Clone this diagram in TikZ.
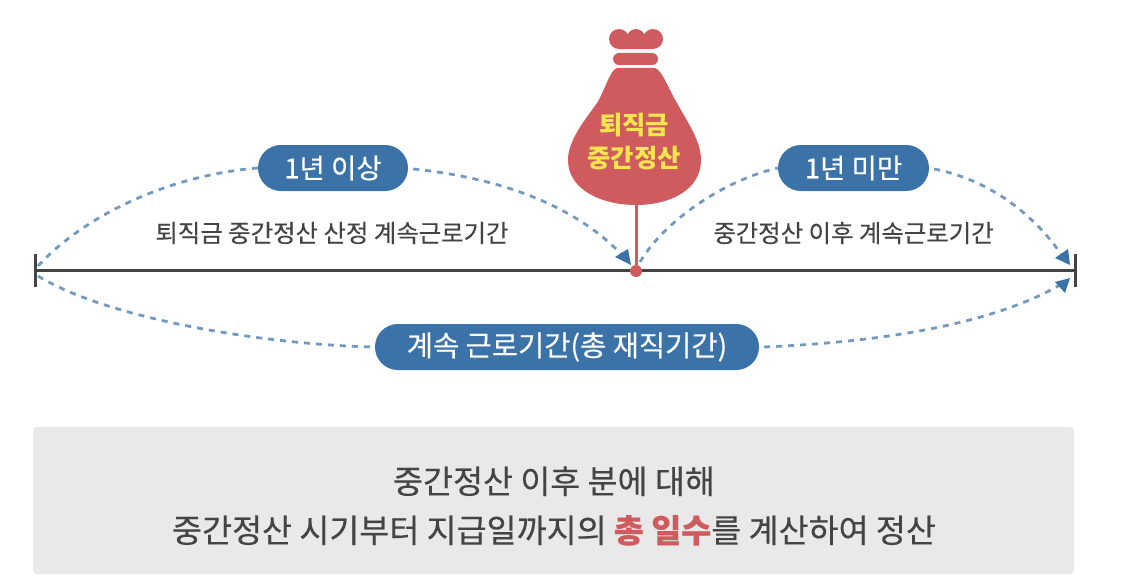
\documentclass[tikz,border=0pt]{standalone}
\usepackage{fontspec}
\setmainfont{Noto Sans CJK KR}
\newfontfamily\medfont[FakeBold=0.35]{Noto Sans CJK KR}
\usetikzlibrary{arrows.meta}
\definecolor{pillblue}{HTML}{3B73A8}
\definecolor{dashblue}{HTML}{7499BF}
\definecolor{bagred}{HTML}{CF5B5E}
\definecolor{bagyellow}{HTML}{F5E64F}
\definecolor{boxgrey}{HTML}{E9E9E9}
\definecolor{inktext}{HTML}{444444}
\definecolor{axisink}{HTML}{444444}
\tikzset{
 x=1pt,y=-1pt,
 pill/.style={fill=pillblue,text=white,rounded corners=22.9pt,inner sep=0pt,font=\medfont\fontsize{27.5}{30}\selectfont},
 captext/.style={text=inktext,font=\medfont\fontsize{24.4}{28}\selectfont,inner sep=0pt},
 dashcurve/.style={draw=dashblue,line width=2.8pt,dash pattern=on 6pt off 6pt},
 headtip/.style={fill=pillblue,draw=none},
 bag/.style={fill=bagred,draw=none},
}
\begin{document}
\begin{tikzpicture}
\useasboundingbox (0,0) rectangle (1127,586);
% grey box
\node[fill=boxgrey,rounded corners=4pt,minimum width=1041pt,minimum height=147pt,inner sep=0pt,anchor=north west] (panel) at (33,427) {};
\node[text=inktext,font=\medfont\fontsize{32.6}{49}\selectfont,align=center,inner sep=0pt] (paneltext) at (554,506)
 {중간정산 이후 분에 대해\\중간정산 시기부터 지급일까지의 {\color{bagred}\bfseries 총 일수}를 계산하여 정산};
% axis
\coordinate (axL) at (35,270); \coordinate (axR) at (1075,270);
\draw[axisink,line width=3pt] (axL) -- (axR);
\draw[axisink,line width=3pt] (35,254) -- (35,287);
\draw[axisink,line width=3pt] (1075,254) -- (1075,287);
% stem + dot
\node[circle,fill=bagred,minimum size=12pt,inner sep=0pt] (dot) at (636,271) {};
\coordinate (bagbottom) at (636,204);
\draw[bagred,line width=3pt] (bagbottom) -- (dot);
% bag
\path[bag] (617,68) -- (655,68) .. controls (662,70) and (669,90) .. (677,103)
  .. controls (686,120) and (701,140) .. (701,160)
  .. controls (701,190) and (670,205) .. (636,205)
  .. controls (602,205) and (568,190) .. (568,160)
  .. controls (568,140) and (585,120) .. (597,103)
  .. controls (605,90) and (610,70) .. (617,68) -- cycle;
\fill[bagred,rounded corners=6pt] (613,53) rectangle (658,65);
\fill[bagred] (619,39) circle[radius=10pt] (653,39) circle[radius=10pt] (636,38) circle[radius=9pt];
\fill[bagred] (619,37) rectangle (653,49);
% labels
\node[text=bagyellow,font=\bfseries\fontsize{25.3}{33}\selectfont,align=center,inner sep=0pt] (bagtext) at (634,142) {퇴직금\\중간정산};
% pills
\node[pill,minimum width=150pt,minimum height=46pt] (p1) at (333,168) {1년 이상};
\node[pill,minimum width=151pt,minimum height=46pt] (p2) at (853.5,168) {1년 미만};
\node[pill,font=\medfont\fontsize{28.5}{30}\selectfont,minimum width=384pt,minimum height=46pt] (p3) at (567,347) {계속 근로기간(총 재직기간)};
% captions
\node[captext] (c1) at (332,233) {퇴직금 중간정산 산정 계속근로기간};
\node[captext] (c2) at (853.5,233) {중간정산 이후 계속근로기간};
% curves
\coordinate (s1) at (38,266); \coordinate (e1) at (623,256);
\coordinate (s2) at (640,262); \coordinate (e2) at (1063,257);
\coordinate (s3) at (38,276); \coordinate (e3) at (1060,285);
\draw[dashcurve] (s1) .. controls (85,215) and (170,175) .. (p1.west);
\draw[dashcurve] (p1.east) ++(5,1) .. controls (500,178) and (575,205) .. (e1);
\draw[dashcurve] (s2) .. controls (665,220) and (725,180) .. (p2.west);
\draw[dashcurve] (p2.east) ++(5,1) .. controls (990,180) and (1035,215) .. (e2);
\draw[dashcurve] (s3) .. controls (110,320) and (270,345) .. (p3.west);
\draw[dashcurve] (p3.east) ++(5,0) .. controls (880,342) and (990,325) .. (e3);
% arrow heads
\path[headtip] (631,265) -- (615,257) -- (628,249) -- cycle;
\path[headtip] (1070,265) -- (1055,258) -- (1068,249) -- cycle;
\path[headtip] (1070,278) -- (1055,282) -- (1065,293) -- cycle;
\end{tikzpicture}
\end{document}
